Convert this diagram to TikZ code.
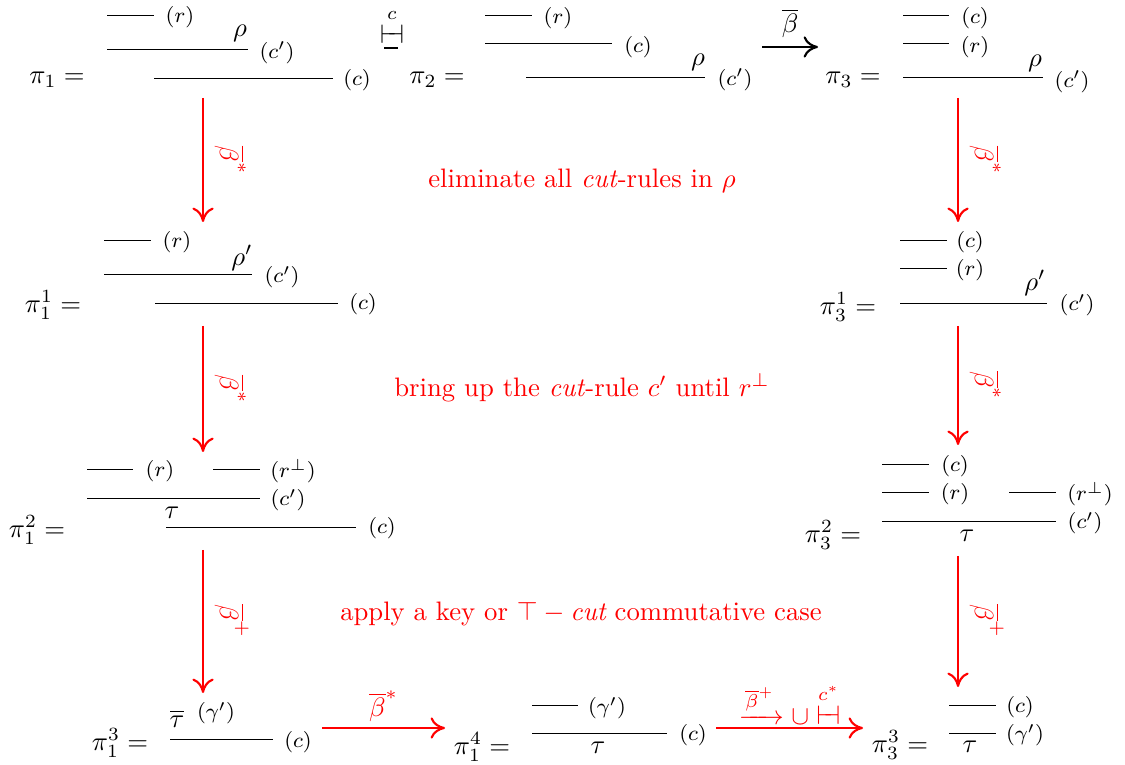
\documentclass[tikz,border=0pt]{standalone}
\usepackage{amsmath}
\usepackage{amssymb}
\usepackage{xcolor}
\usepackage{tikz}
\usetikzlibrary{arrows.meta}

\begin{document}
\begin{tikzpicture}[
    x=0.1316mm, y=-0.1316mm,
    rul/.style   ={draw=black, line width=0.3pt},
    rlab/.style  ={font=\footnotesize, inner sep=1pt},
    pf/.style    ={inner sep=1pt},
    stepto/.style={draw=red, thick, -{To[length=1.9mm,width=2.8mm]}},
    barto/.style ={draw=black, thick, -{To[length=1.9mm,width=2.8mm]}},
    vlab/.style  ={text=red, sloped, above=3pt, inner sep=1pt},
    note/.style  ={text=red}
  ]
    \useasboundingbox (0,0) rectangle (1125,765);

    % --- first row: pi_1, pi_2, pi_3 ---
    \node[pf] (pi1) at (57,80) {$\pi_1 =$};
    \draw[rul] (107,15) -- (154,15);
    \draw[rul] (107,49) -- (248,49);
    \draw[rul] (154,78) -- (333,78);
    \node[rlab] (pi1r) at (180,17) {$(r)$};
    \node[pf] (pi1rho) at (240,33) {$\rho$};
    \node[rlab] (pi1cp) at (277,53) {$(c')$};
    \node[rlab] (pi1c) at (357,80) {$(c)$};

    \node[pf] (turn) at (392,26) {$\overset{c}{\vdash\!\!\dashv}$};
    \draw[line width=1.1pt] (384,48) -- (398,48);

    \node[pf] (pi2) at (437,80) {$\pi_2 =$};
    \draw[rul] (485,15) -- (532,15);
    \draw[rul] (485,43) -- (612,43);
    \draw[rul] (526,77) -- (705,77);
    \node[rlab] (pi2r) at (558,18) {$(r)$};
    \node[rlab] (pi2c) at (638,47) {$(c)$};
    \node[pf] (pi2rho) at (698,62) {$\rho$};
    \node[rlab] (pi2cp) at (735,80) {$(c')$};

    \coordinate (barA) at (762,47);
    \coordinate (barB) at (818,47);
    \draw[barto] (barA) -- node[midway, above=2pt, inner sep=1pt] (barlab) {$\overline{\beta}$} (barB);

    \node[pf] (pi3) at (853,80) {$\pi_3 =$};
    \draw[rul] (903,15) -- (949,15);
    \draw[rul] (903,43) -- (949,43);
    \draw[rul] (903,77) -- (1043,77);
    \node[rlab] (pi3c) at (975,18) {$(c)$};
    \node[rlab] (pi3r) at (975,47) {$(r)$};
    \node[pf] (pi3rho) at (1035,63) {$\rho$};
    \node[rlab] (pi3cp) at (1072,82) {$(c')$};

    % --- first steps down ---
    \coordinate (d1a) at (203,98);   \coordinate (d1b) at (203,222);
    \coordinate (e1a) at (958,98);   \coordinate (e1b) at (958,222);
    \draw[stepto] (d1a) -- node[vlab] (d1lab) {$\overline{\beta}^{*}$} (d1b);
    \draw[stepto] (e1a) -- node[vlab] (e1lab) {$\overline{\beta}^{*}$} (e1b);
    \node[note] (note1) at (582,181) {eliminate all \textit{cut}-rules in $\rho$};

    % --- second row: pi_1^1, pi_3^1 ---
    \node[pf] (pi11) at (53,305) {$\pi_1^1 =$};
    \draw[rul] (104,240) -- (151,240);
    \draw[rul] (104,274) -- (252,274);
    \draw[rul] (155,303) -- (338,303);
    \node[rlab] (pi11r) at (177,242) {$(r)$};
    \node[pf] (pi11rho) at (242,258) {$\rho'$};
    \node[rlab] (pi11cp) at (282,277) {$(c')$};
    \node[rlab] (pi11c) at (363,304) {$(c)$};

    \node[pf] (pi31) at (848,307) {$\pi_3^1 =$};
    \draw[rul] (900,240) -- (947,240);
    \draw[rul] (900,268) -- (947,268);
    \draw[rul] (900,303) -- (1047,303);
    \node[rlab] (pi31c) at (970,242) {$(c)$};
    \node[rlab] (pi31r) at (970,270) {$(r)$};
    \node[pf] (pi31rho) at (1035,283) {$\rho'$};
    \node[rlab] (pi31cp) at (1077,305) {$(c')$};

    % --- second steps down ---
    \coordinate (d2a) at (203,326);  \coordinate (d2b) at (203,452);
    \coordinate (e2a) at (958,326);  \coordinate (e2b) at (958,445);
    \draw[stepto] (d2a) -- node[vlab] (d2lab) {$\overline{\beta}^{*}$} (d2b);
    \draw[stepto] (e2a) -- node[vlab] (e2lab) {$\overline{\beta}^{*}$} (e2b);
    \node[note] (note2) at (582,388) {bring up the \textit{cut}-rule $c'$ until $r^{\perp}$};

    % --- third row: pi_1^2, pi_3^2 ---
    \node[pf] (pi12) at (37,530) {$\pi_1^2 =$};
    \draw[rul] (87,469) -- (133,469);
    \draw[rul] (213,469) -- (260,469);
    \draw[rul] (87,498) -- (260,498);
    \draw[rul] (166,527) -- (356,527);
    \node[rlab] (pi12r) at (160,471) {$(r)$};
    \node[rlab] (pi12rp) at (293,471) {$(r^{\perp})$};
    \node[rlab] (pi12cp) at (288,500) {$(c')$};
    \node[pf] (pi12tau) at (172,513) {$\tau$};
    \node[rlab] (pi12c) at (382,528) {$(c)$};

    \node[pf] (pi32) at (833,535) {$\pi_3^2 =$};
    \draw[rul] (882,464) -- (929,464);
    \draw[rul] (882,492) -- (929,492);
    \draw[rul] (1009,492) -- (1056,492);
    \draw[rul] (882,521) -- (1056,521);
    \node[rlab] (pi32c) at (955,466) {$(c)$};
    \node[rlab] (pi32r) at (955,494) {$(r)$};
    \node[rlab] (pi32rp) at (1090,494) {$(r^{\perp})$};
    \node[rlab] (pi32cp) at (1085,523) {$(c')$};
    \node[pf] (pi32tau) at (967,536) {$\tau$};

    % --- third steps down ---
    \coordinate (d3a) at (203,550);  \coordinate (d3b) at (203,693);
    \coordinate (e3a) at (958,556);  \coordinate (e3b) at (958,687);
    \draw[stepto] (d3a) -- node[vlab] (d3lab) {$\overline{\beta}^{+}$} (d3b);
    \draw[stepto] (e3a) -- node[vlab] (e3lab) {$\overline{\beta}^{+}$} (e3b);
    \node[note] (note3) at (581,614) {apply a key or $\top-\textit{cut}$ commutative case};

    % --- last row: pi_1^3, pi_1^4, pi_3^3 ---
    \node[pf] (pi13) at (120,743) {$\pi_1^3 =$};
    \draw[rul] (170,711) -- (184,711);
    \draw[rul] (170,739) -- (273,739);
    \node[pf] (pi13tau) at (177,722) {$\tau$};
    \node[rlab] (pi13g) at (216,713) {$(\gamma')$};
    \node[rlab] (pi13c) at (298,742) {$(c)$};

    \coordinate (h1a) at (322,728);  \coordinate (h1b) at (445,728);
    \draw[stepto] (h1a) -- node[midway, above=1pt, inner sep=1pt, text=red] (h1lab) {$\overline{\beta}^{*}$} (h1b);

    \node[pf] (pi14) at (482,747) {$\pi_1^4 =$};
    \draw[rul] (532,705) -- (578,705);
    \draw[rul] (532,733) -- (667,733);
    \node[rlab] (pi14g) at (607,708) {$(\gamma')$};
    \node[pf] (pi14tau) at (598,748) {$\tau$};
    \node[rlab] (pi14c) at (693,735) {$(c)$};

    \coordinate (h2a) at (716,728);  \coordinate (h2b) at (863,728);
    \draw[stepto] (h2a) -- node[midway, above=0pt, inner sep=1pt, text=red] (h2lab)
      {$\xrightarrow{\overline{\beta}^{+}} \cup \overset{c^{*}}{\vdash\!\!\dashv}$} (h2b);

    \node[pf] (pi33) at (900,745) {$\pi_3^3 =$};
    \draw[rul] (949,705) -- (996,705);
    \draw[rul] (949,733) -- (996,733);
    \node[rlab] (pi33c) at (1020,707) {$(c)$};
    \node[rlab] (pi33g) at (1025,735) {$(\gamma')$};
    \node[pf] (pi33tau) at (970,747) {$\tau$};
  \end{tikzpicture}
\end{document}
